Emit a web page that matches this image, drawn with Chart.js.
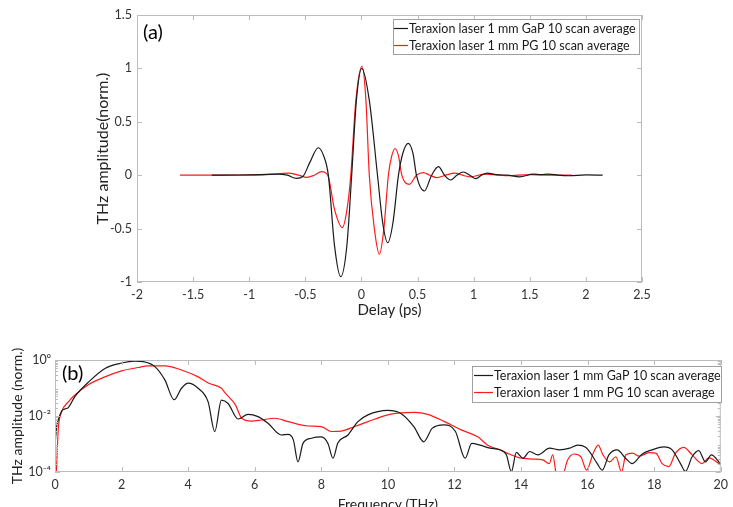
<!DOCTYPE html>
<html>
<head>
<meta charset="utf-8">
<script src="https://cdn.jsdelivr.net/npm/chart.js@4.4.1/dist/chart.umd.min.js"></script>
<style>
html, body { margin: 0; padding: 0; background: #fff; overflow: hidden; }
#wrapA { position: absolute; left: 0; top: 0; width: 733px; height: 325px; }
#wrapB { position: absolute; left: 0; top: 330px; width: 733px; height: 190px; }
</style>
</head>
<body>
<div id="wrapA"><canvas id="chartA"></canvas></div>
<div id="wrapB"><canvas id="chartB"></canvas></div>
<script>
// ---- (a) time domain ----
const gapDelay = [-1.334, -1.1, -0.9, -0.75, -0.66, -0.58, -0.52, -0.46, -0.384, -0.34, -0.295, -0.24, -0.185, -0.13, -0.087, -0.045, 0.003, 0.07, 0.143, 0.19, 0.234, 0.28, 0.33, 0.37, 0.418, 0.46, 0.49, 0.561, 0.625, 0.686, 0.74, 0.796, 0.85, 0.908, 0.965, 1.02, 1.07, 1.12, 1.2, 1.3, 1.41, 1.53, 1.6, 1.67, 1.75, 1.85, 2.0, 2.15];
const gapAmp = [0, 0.002, 0.006, 0.01, 0.0, -0.03, -0.01, 0.12, 0.257, 0.19, 0, -0.66, -0.95, -0.66, 0, 0.7, 1.0, 0.7, 0, -0.45, -0.632, -0.45, 0, 0.21, 0.298, 0.2, 0, -0.148, 0, 0.08, 0, -0.045, 0, 0.03, 0, -0.033, 0, 0.02, 0.005, 0.0, -0.015, 0.01, 0.005, 0.01, 0.0, -0.005, 0.003, 0.0];

const pgDelay = [-1.617, -1.2, -0.9, -0.72, -0.65, -0.56, -0.487, -0.42, -0.354, -0.3, -0.24, -0.17, -0.13, -0.095, -0.05, 0.005, 0.04, 0.07, 0.115, 0.16, 0.2, 0.24, 0.27, 0.30, 0.33, 0.36, 0.427, 0.49, 0.552, 0.61, 0.671, 0.75, 0.834, 0.9, 0.968, 1.1, 1.3, 1.5, 1.7, 1.875];
const pgAmp = [0, 0, 0.003, 0.015, 0.02, 0.0, -0.02, 0.0, 0.033, 0.0, -0.32, -0.49, -0.33, 0, 0.7, 1.02, 0.7, 0, -0.5, -0.74, -0.5, 0, 0.18, 0.25, 0.18, 0, -0.085, 0, 0.024, 0, -0.023, 0, 0.02, 0, -0.015, 0.01, -0.005, 0.005, 0.0, 0];

// ---- (b) spectrum ----
const gapFreq = [0.0, 0.05, 0.1, 0.2, 0.3, 0.4, 0.6, 1.0, 1.5, 2.0, 2.4, 2.65, 3.0, 3.3, 3.58, 3.8, 4.0, 4.3, 4.6, 4.8, 5.0, 5.2, 5.5, 5.8, 6.1, 6.4, 6.8, 7.0, 7.16, 7.3, 7.45, 7.7, 8.0, 8.2, 8.35, 8.5, 8.8, 9.1, 9.4, 10.0, 10.38, 10.78, 11.08, 11.33, 11.68, 12.03, 12.32, 12.52, 12.77, 13.07, 13.36, 13.56, 13.71, 13.86, 14.06, 14.26, 14.51, 14.86, 15.16, 15.46, 15.7, 15.94, 16.09, 16.29, 16.44, 16.64, 16.89, 17.14, 17.34, 17.64, 17.94, 18.29, 18.54, 18.79, 18.94, 19.14, 19.34, 19.54, 19.72, 20.0];
const gapSpec = [9.1e-4, 4.2e-3, 7.2e-3, 1.5e-2, 1.8e-2, 2.0e-2, 5.0e-2, 0.16, 0.5, 0.78, 0.91, 0.87, 0.58, 0.195, 0.038, 0.098, 0.15, 0.098, 0.032, 0.0028, 0.037, 0.028, 0.0078, 0.0115, 0.0095, 0.0055, 0.0021, 0.0022, 0.0014, 0.00023, 0.00105, 0.0016, 0.0018, 0.00105, 0.00031, 0.0011, 0.0021, 0.0063, 0.011, 0.016, 0.0126, 0.0042, 0.0012, 0.0036, 0.0048, 0.0028, 0.00031, 0.00105, 0.00091, 0.00071, 0.00062, 0.00041, 0.000102, 0.0005, 0.00031, 0.00054, 0.00041, 0.00071, 0.00062, 0.00071, 0.00091, 0.00076, 0.00047, 0.0002, 0.000117, 0.00041, 0.00062, 0.00031, 0.0002, 0.00044, 0.00062, 0.00079, 0.00062, 0.0002, 0.000105, 0.00035, 0.00058, 0.00023, 0.00041, 0.00019];

const pgFreq = [0.02, 0.04, 0.1, 0.2, 0.4, 0.6, 1.0, 1.5, 2.0, 2.5, 2.8, 3.3, 3.8, 4.3, 4.62, 5.0, 5.12, 5.42, 5.61, 5.9, 6.2, 6.6, 7.0, 7.6, 8.0, 8.3, 8.6, 9.0, 9.4, 10.0, 10.3, 10.8, 11.2, 11.7, 12.2, 12.7, 13.0, 13.36, 13.66, 13.96, 14.35, 14.65, 14.85, 14.95, 15.1, 15.2, 15.4, 15.6, 15.8, 15.97, 16.17, 16.32, 16.46, 16.66, 16.85, 17.02, 17.15, 17.35, 17.55, 17.85, 18.05, 18.24, 18.44, 18.64, 18.89, 19.14, 19.44, 19.64, 20.0];
const pgSpec = [5e-5, 1e-4, 0.0036, 0.014, 0.032, 0.056, 0.13, 0.25, 0.41, 0.54, 0.62, 0.62, 0.44, 0.25, 0.148, 0.098, 0.065, 0.025, 0.0083, 0.0066, 0.0072, 0.0083, 0.0063, 0.0044, 0.0042, 0.0028, 0.0029, 0.0042, 0.0063, 0.011, 0.0126, 0.0135, 0.0115, 0.0063, 0.0032, 0.0018, 0.00091, 0.00062, 0.00043, 0.00032, 0.00029, 0.00027, 0.0002, 0.00041, 5e-5, 5e-5, 0.00027, 0.00044, 0.00035, 0.000117, 0.00047, 0.00091, 0.00041, 0.00023, 0.00035, 0.0001, 0.00041, 0.00047, 0.00037, 0.00049, 0.00047, 0.0002, 0.000155, 0.00047, 0.00076, 0.00041, 0.0002, 0.00032, 0.00018];

const seriesNames = ["Teraxion laser 1 mm GaP 10 scan average", "Teraxion laser 1 mm PG 10 scan average"];
const logTickValues = [1e-4, 1e-2, 1];
const logTickLabels = ["10\u207B\u2074", "10\u207B\u00B2", "10\u2070"];

const FONT = "Lato, 'DejaVu Sans', sans-serif";
const TEXT = "#333333";

function pairs(xs, ys) {
	return xs.map((v, i) => ({ x: v, y: ys[i] }));
}

// MATLAB-like box with inward ticks on all four sides
const frameBox = {
	id: "frameBox",
	afterDatasetsDraw(chart, args, opts) {
		const { ctx, chartArea: a, scales } = chart;
		const x = scales.x, y = scales.y;
		ctx.save();
		ctx.strokeStyle = "#bcbcbc";
		ctx.lineWidth = 1;
		ctx.strokeRect(a.left + 0.5, a.top + 0.5, a.right - a.left - 1, a.bottom - a.top - 1);
		ctx.beginPath();
		x.ticks.forEach((t) => {
			const p = Math.round(x.getPixelForValue(t.value)) + 0.5;
			ctx.moveTo(p, a.bottom); ctx.lineTo(p, a.bottom - 5);
			ctx.moveTo(p, a.top); ctx.lineTo(p, a.top + 5);
		});
		y.ticks.forEach((t) => {
			const p = Math.round(y.getPixelForValue(t.value)) + 0.5;
			ctx.moveTo(a.left, p); ctx.lineTo(a.left + 5, p);
			ctx.moveTo(a.right, p); ctx.lineTo(a.right - 5, p);
		});
		if (opts.minorLog) {
			for (let e = -4; e < 0; e++) {
				for (let m = 2; m < 10; m++) {
					const p = Math.round(y.getPixelForValue(m * Math.pow(10, e))) + 0.5;
					ctx.moveTo(a.left, p); ctx.lineTo(a.left + 3, p);
					ctx.moveTo(a.right, p); ctx.lineTo(a.right - 3, p);
				}
			}
		}
		ctx.stroke();
		ctx.restore();
	},
};

// legend box inside the axes plus the panel letter
const boxLegend = {
	id: "boxLegend",
	afterDraw(chart, args, o) {
		const ctx = chart.ctx;
		ctx.save();
		ctx.fillStyle = "#fff";
		ctx.fillRect(o.x, o.y, o.w, o.h);
		ctx.strokeStyle = "#a0a0a0";
		ctx.lineWidth = 1;
		ctx.strokeRect(o.x + 0.5, o.y + 0.5, o.w, o.h);
		ctx.font = o.font;
		ctx.textBaseline = "middle";
		chart.data.datasets.forEach((ds, i) => {
			const cy = Math.round(o.y + o.row0 + i * o.rowGap) + 0.5;
			ctx.strokeStyle = ds.borderColor;
			ctx.lineWidth = 1.2;
			ctx.beginPath();
			ctx.moveTo(o.x + o.line0, cy);
			ctx.lineTo(o.x + o.line1, cy);
			ctx.stroke();
			ctx.fillStyle = "#1a1a1a";
			ctx.fillText(ds.label, o.x + o.text0, cy);
		});
		ctx.font = "20px " + FONT;
		ctx.fillStyle = "#000";
		ctx.fillText(o.letter, o.letterX, o.letterY);
		ctx.restore();
	},
};

function lineSet(label, pts, color) {
	return {
		label,
		data: pts,
		borderColor: color,
		borderWidth: 1.2,
		pointRadius: 0,
		cubicInterpolationMode: "monotone",
		fill: false,
	};
}

const plainNum = (v) => String(Number(v.toFixed(2)));
const tickFont = { family: FONT, size: 12.5 };

const chartA = new Chart(document.getElementById("chartA"), {
	type: "line",
	data: {
		datasets: [
			lineSet(seriesNames[0], pairs(gapDelay, gapAmp), "#1a1a1a"),
			lineSet(seriesNames[1], pairs(pgDelay, pgAmp), "#ff1a1a"),
		],
	},
	options: {
		responsive: true,
		maintainAspectRatio: false,
		animation: false,
		layout: { padding: { left: 93, right: 91, top: 15, bottom: 0 } },
		plugins: {
			legend: { display: false },
			tooltip: { enabled: false },
			frameBox: {},
			boxLegend: {
				x: 393, y: 19, w: 246, h: 35, row0: 9, rowGap: 17,
				line0: 1, line1: 15, text0: 16,
				font: "12.5px " + FONT,
				letter: "(a)", letterX: 143, letterY: 33,
			},
		},
		scales: {
			x: {
				type: "linear",
				min: -2,
				max: 2.5,
				afterFit: (s) => { s.height = 43; },
				grid: { display: false, drawTicks: false },
				border: { display: false },
				ticks: { stepSize: 0.5, padding: 5, color: TEXT, font: tickFont, maxRotation: 0, callback: plainNum },
				title: { display: true, text: "Delay (ps)", color: "#222", font: { family: FONT, size: 15 }, padding: { top: 0, bottom: 6 } },
			},
			y: {
				type: "linear",
				min: -1,
				max: 1.5,
				afterFit: (s) => { s.width = 44; },
				grid: { display: false, drawTicks: false },
				border: { display: false },
				ticks: { stepSize: 0.5, padding: 5, color: TEXT, font: tickFont, callback: plainNum },
				title: { display: true, text: "THz amplitude(norm.)", color: "#222", font: { family: FONT, size: 16 }, padding: { top: 0, bottom: 0 } },
			},
		},
	},
	plugins: [frameBox, boxLegend],
});

const chartB = new Chart(document.getElementById("chartB"), {
	type: "line",
	data: {
		datasets: [
			lineSet(seriesNames[0], pairs(gapFreq, gapSpec), "#1a1a1a"),
			lineSet(seriesNames[1], pairs(pgFreq, pgSpec), "#ff1a1a"),
		],
	},
	options: {
		responsive: true,
		maintainAspectRatio: false,
		animation: false,
		layout: { padding: { left: 9, right: 7, top: 30, bottom: 0 } },
		plugins: {
			legend: { display: false },
			tooltip: { enabled: false },
			frameBox: { minorLog: true },
			boxLegend: {
				x: 472, y: 36, w: 249, h: 36, row0: 9, rowGap: 17,
				line0: 2, line1: 21, text0: 22,
				font: "12.5px " + FONT,
				letter: "(b)", letterX: 62, letterY: 44,
			},
		},
		scales: {
			x: {
				type: "linear",
				min: 0,
				max: 20,
				afterFit: (s) => { s.height = 48; },
				grid: { display: false, drawTicks: false },
				border: { display: false },
				ticks: { stepSize: 2, padding: 5, color: TEXT, font: tickFont, maxRotation: 0, callback: plainNum },
				title: { display: true, text: "Frequency (THz)", color: "#222", font: { family: FONT, size: 14 }, padding: { top: 0, bottom: 7 } },
			},
			y: {
				type: "logarithmic",
				min: 1e-4,
				max: 1,
				afterFit: (s) => { s.width = 46; },
				afterBuildTicks: (s) => { s.ticks = logTickValues.map((v) => ({ value: v })); },
				grid: { display: false, drawTicks: false },
				border: { display: false },
				ticks: {
					padding: 4,
					color: TEXT,
					font: tickFont,
					autoSkip: false,
					callback: (v) => { const i = logTickValues.indexOf(v); return i >= 0 ? logTickLabels[i] : ""; },
				},
				title: { display: true, text: "THz amplitude (norm.)", color: "#222", font: { family: FONT, size: 14 }, padding: { top: 0, bottom: 0 } },
			},
		},
	},
	plugins: [frameBox, boxLegend],
});
</script>
</body>
</html>
